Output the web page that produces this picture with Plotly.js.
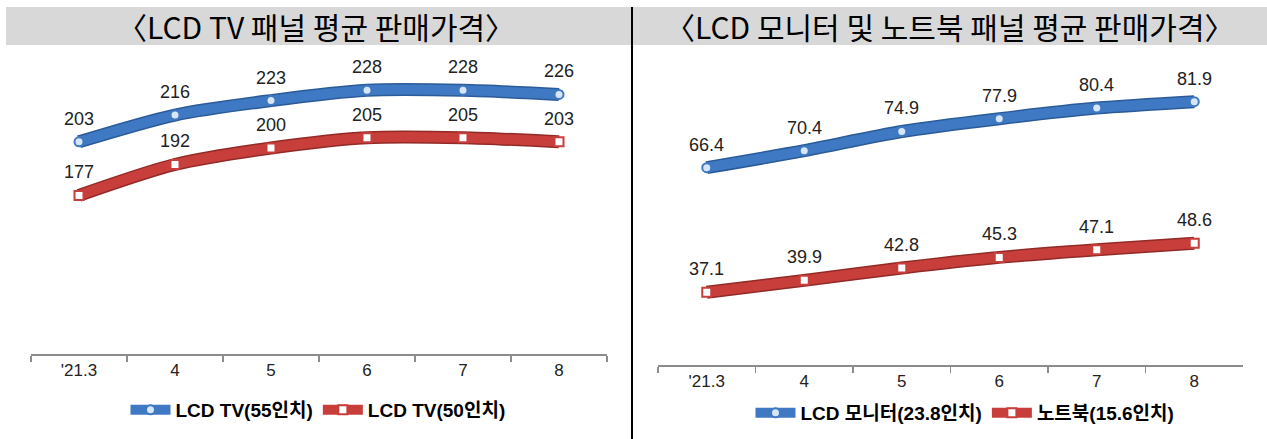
<!DOCTYPE html>
<html>
<head>
<meta charset="utf-8">
<script src="https://cdn.plot.ly/plotly-3.0.1.min.js"></script>
<style>
  html, body { margin: 0; padding: 0; background: #ffffff; }
  #chart { width: 1267px; height: 439px; }
</style>
</head>
<body>
<div id="chart"></div>
<script>
// ---- data ----
const months = ["'21.3", "4", "5", "6", "7", "8"];
const tv55 = [203, 216, 223, 228, 228, 226];
const tv50 = [177, 192, 200, 205, 205, 203];
const monitor = [66.4, 70.4, 74.9, 77.9, 80.4, 81.9];
const notebook = [37.1, 39.9, 42.8, 45.3, 47.1, 48.6];
const leftTitle = "〈LCD TV 패널 평균 판매가격〉";
const rightTitle = "〈LCD 모니터 및 노트북 패널 평균 판매가격〉";
const seriesNames = ["LCD TV(55인치)", "LCD TV(50인치)", "LCD 모니터(23.8인치)", "노트북(15.6인치)"];

// ---- style ----
const W = 1267, H = 439;
const BLUE = '#3f79c3', BLUE_EDGE = '#2b5b98', BLUE_FILL = '#d6e6f8';
const RED = '#c83e3a', RED_EDGE = '#922a27', RED_FILL = '#ffffff';
const px = v => v / W;
const py = v => 1 - v / H;

function edgeTrace(y, color, xa, ya) {
  return {
    x: months, y: y, xaxis: xa, yaxis: ya, type: 'scatter', mode: 'lines',
    line: {color: color, width: 13, shape: 'spline', smoothing: 0.8},
    showlegend: false, hoverinfo: 'skip'
  };
}
function mainTrace(y, name, color, fill, symbol, xa, ya, leg) {
  return {
    x: months, y: y, xaxis: xa, yaxis: ya, type: 'scatter', mode: 'lines+markers',
    name: name, legend: leg,
    line: {color: color, width: 10, shape: 'spline', smoothing: 0.8},
    marker: {symbol: symbol, size: 9, color: fill, line: {color: color, width: 2}}
  };
}

const traces = [
  edgeTrace(tv55, BLUE_EDGE, 'x', 'y'),
  edgeTrace(tv50, RED_EDGE, 'x', 'y'),
  mainTrace(tv55, seriesNames[0], BLUE, BLUE_FILL, 'circle', 'x', 'y', 'legend'),
  mainTrace(tv50, seriesNames[1], RED, RED_FILL, 'square', 'x', 'y', 'legend'),
  edgeTrace(monitor, BLUE_EDGE, 'x2', 'y2'),
  edgeTrace(notebook, RED_EDGE, 'x2', 'y2'),
  mainTrace(monitor, seriesNames[2], BLUE, BLUE_FILL, 'circle', 'x2', 'y2', 'legend2'),
  mainTrace(notebook, seriesNames[3], RED, RED_FILL, 'square', 'x2', 'y2', 'legend2')
];

const labelFont = {family: 'Liberation Sans, Arial, sans-serif', size: 18, color: '#222222'};
const annotations = [];
function addLabels(vals, xa, ya, fmt) {
  vals.forEach((v, i) => annotations.push({
    x: i, y: v, xref: xa, yref: ya, text: fmt(v), showarrow: false,
    yshift: 23, font: labelFont
  }));
}
addLabels(tv55, 'x', 'y', v => String(v));
addLabels(tv50, 'x', 'y', v => String(v));
addLabels(monitor, 'x2', 'y2', v => v.toFixed(1));
addLabels(notebook, 'x2', 'y2', v => v.toFixed(1));

const titleFont = {family: 'Noto Sans CJK KR, sans-serif', size: 30, color: '#000000'};
annotations.push({xref: 'paper', yref: 'paper', x: px(316), y: py(26), text: leftTitle,
  showarrow: false, font: titleFont, xanchor: 'center', yanchor: 'middle'});
annotations.push({xref: 'paper', yref: 'paper', x: px(950), y: py(26), text: rightTitle,
  showarrow: false, font: titleFont, xanchor: 'center', yanchor: 'middle'});

const tickFont = {family: 'Liberation Sans Narrow, Arial Narrow, Liberation Sans, sans-serif', size: 17, color: '#222222'};
function xAxis(x0, x1, anchor) {
  return {
    domain: [px(x0), px(x1)], anchor: anchor, type: 'category',
    range: [-0.5, months.length - 0.5],
    showline: true, linecolor: '#8c8c8c', linewidth: 1.5,
    ticks: 'outside', tickson: 'boundaries', ticklen: 6, tickcolor: '#8c8c8c', tickwidth: 1.5,
    showgrid: false, zeroline: false, tickfont: tickFont, fixedrange: true
  };
}
function yAxis(yTop, yBottom, range, anchor) {
  return {
    domain: [py(yBottom), py(yTop)], anchor: anchor, range: range,
    visible: false, showgrid: false, zeroline: false, fixedrange: true
  };
}

const legendFont = {family: 'Liberation Sans, Arial, Noto Sans CJK KR, sans-serif', size: 19, color: '#000000', weight: 'bold'};

const layout = {
  width: W, height: H,
  margin: {l: 0, r: 0, t: 0, b: 0},
  paper_bgcolor: '#ffffff', plot_bgcolor: 'rgba(0,0,0,0)',
  xaxis: xAxis(31, 607, 'y'),
  yaxis: yAxis(45, 354, [100, 250], 'x'),
  xaxis2: xAxis(658, 1243, 'y2'),
  yaxis2: yAxis(46, 365, [20, 95], 'x2'),
  legend: {orientation: 'h', x: px(318), y: py(410), xanchor: 'center', yanchor: 'middle',
    font: legendFont, bgcolor: 'rgba(0,0,0,0)', itemwidth: 40},
  legend2: {orientation: 'h', x: px(965), y: py(413), xanchor: 'center', yanchor: 'middle',
    font: legendFont, bgcolor: 'rgba(0,0,0,0)', itemwidth: 40},
  shapes: [
    {type: 'rect', xref: 'paper', yref: 'paper', x0: px(6), x1: px(1267), y0: py(45), y1: py(7),
      fillcolor: '#d8d8d8', line: {width: 0}, layer: 'below'},
    {type: 'line', xref: 'paper', yref: 'paper', x0: px(632), x1: px(632), y0: 0, y1: py(7),
      line: {color: '#000000', width: 2}}
  ],
  annotations: annotations,
  showlegend: true
};

Plotly.newPlot('chart', traces, layout, {staticPlot: true, displayModeBar: false});
</script>
</body>
</html>
